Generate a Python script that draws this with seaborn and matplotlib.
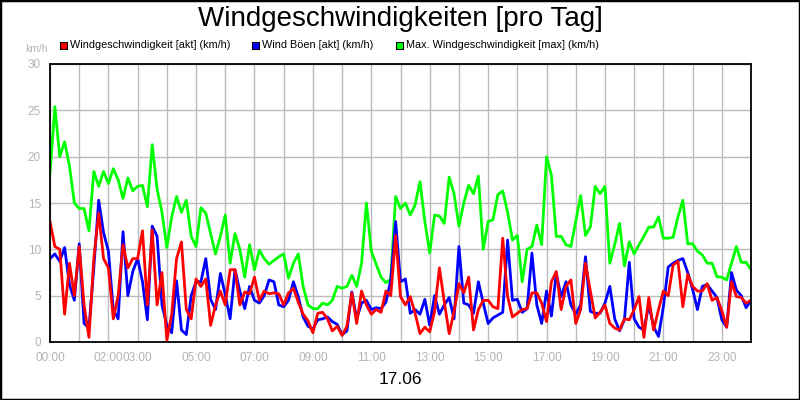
import numpy as np
import pandas as pd
import matplotlib
matplotlib.use("Agg")
import matplotlib.pyplot as plt
from matplotlib.patches import Rectangle
import seaborn as sns

# 10-minute readings from 00:00 to 24:00 (km/h)
minutes = np.arange(0, 24 * 60 + 1, 10)

wind_akt = [
    13.0, 10.3, 10.0, 3.0, 8.5, 5.0,
    10.3, 4.0, 0.5, 9.0, 13.9, 9.0,
    8.0, 2.5, 5.0, 10.5, 8.0, 9.0,
    9.0, 12.0, 4.0, 12.1, 4.0, 7.5,
    0.2, 3.0, 9.0, 10.8, 3.5, 2.5,
    6.8, 6.0, 6.8, 1.8, 4.0, 5.5,
    4.0, 7.8, 7.8, 4.0, 5.4, 5.2,
    7.0, 4.5, 5.5, 5.2, 5.3, 5.2,
    4.0, 5.3, 5.8, 4.3, 3.0, 2.3,
    1.0, 3.1, 3.2, 2.5, 1.2, 1.7,
    0.7, 1.7, 5.3, 2.0, 5.5, 4.0,
    3.0, 3.5, 3.2, 5.5, 5.0, 11.5,
    4.9, 4.0, 4.9, 3.1, 0.9, 1.6,
    1.1, 3.3, 8.0, 4.3, 0.9, 3.3,
    6.3, 5.3, 7.0, 1.3, 3.5, 4.5,
    4.5, 3.8, 3.6, 11.2, 4.9, 2.7,
    3.1, 3.5, 3.6, 5.3, 5.3, 4.2,
    2.2, 6.5, 7.6, 3.5, 6.0, 6.7,
    2.0, 3.5, 8.5, 5.5, 2.6, 3.2,
    4.0, 2.0, 1.5, 1.3, 2.5, 2.4,
    3.5, 4.9, 0.5, 4.8, 1.3, 3.5,
    5.5, 5.0, 8.3, 8.7, 3.8, 7.3,
    6.0, 5.5, 5.5, 6.3, 4.5, 4.8,
    3.4, 1.6, 6.5, 4.9, 4.8, 4.2,
    4.5,
]

boeen_akt = [
    9.0, 9.5, 8.7, 10.2, 6.2, 4.5,
    10.6, 2.0, 1.5, 8.0, 15.3, 11.8,
    9.8, 3.5, 2.5, 11.9, 5.0, 7.6,
    9.0, 6.5, 2.4, 12.5, 11.4, 4.0,
    1.8, 1.0, 6.6, 1.3, 0.8, 5.0,
    6.5, 6.5, 9.0, 4.6, 3.5, 7.4,
    5.1, 2.5, 7.8, 5.5, 3.6, 6.0,
    4.5, 4.2, 5.0, 6.7, 6.5, 4.0,
    3.8, 4.5, 6.5, 4.9, 2.7, 1.7,
    1.4, 2.4, 2.5, 2.7, 2.2, 1.9,
    0.8, 1.2, 5.4, 2.5, 4.2, 4.5,
    3.5, 3.7, 3.6, 4.3, 6.7, 13.0,
    6.5, 6.8, 3.1, 3.5, 3.0, 4.6,
    1.8, 5.0, 3.0, 4.0, 4.8, 2.5,
    10.3, 4.2, 4.0, 3.1, 6.5, 4.2,
    2.0, 2.6, 2.9, 3.2, 11.0, 4.5,
    4.6, 3.2, 3.6, 9.6, 4.0, 2.0,
    5.5, 2.8, 7.4, 4.9, 6.5, 4.0,
    3.0, 4.0, 9.2, 3.3, 3.1, 3.1,
    4.2, 6.0, 2.5, 1.2, 2.4, 8.6,
    2.5, 1.6, 1.3, 4.0, 1.65, 0.6,
    3.8, 8.1, 8.5, 8.8, 9.0, 7.5,
    5.7, 3.5, 6.0, 6.2, 5.5, 4.8,
    2.4, 1.6, 7.5, 5.6, 5.0, 3.7,
    4.5,
]

wind_max = [
    18.2, 25.4, 20.0, 21.6, 19.0, 15.0,
    14.4, 14.4, 12.0, 18.4, 16.8, 18.4,
    17.1, 18.7, 17.5, 15.5, 17.7, 16.3,
    16.8, 16.9, 14.6, 21.3, 16.5, 14.0,
    10.2, 13.5, 15.7, 14.0, 15.3, 11.4,
    10.3, 14.5, 13.9, 11.7, 9.5, 11.4,
    13.7, 8.5, 11.7, 10.0, 7.0, 10.5,
    7.8, 9.9, 9.0, 8.4, 8.8, 9.2,
    9.5, 6.9, 8.5, 9.5, 6.0, 4.0,
    3.6, 3.6, 4.2, 4.0, 4.5, 6.0,
    5.8, 6.0, 7.2, 6.0, 8.5, 15.0,
    9.8, 8.4, 7.0, 6.4, 6.8, 15.7,
    14.4, 15.0, 13.7, 14.8, 17.3, 13.0,
    9.6, 13.7, 13.6, 12.8, 17.8, 16.0,
    12.5, 15.0, 16.9, 16.0, 17.9, 10.0,
    13.0, 13.2, 15.9, 16.3, 14.0, 11.0,
    11.5, 6.5, 10.0, 10.3, 12.6, 10.5,
    20.0, 18.0, 11.4, 11.4, 10.5, 10.3,
    13.0, 15.8, 11.5, 12.4, 16.8, 16.0,
    16.8, 8.5, 10.5, 12.8, 8.2, 10.8,
    9.5, 10.5, 11.4, 12.4, 12.4, 13.5,
    11.2, 11.2, 11.3, 13.5, 15.3, 10.6,
    10.6, 9.8, 9.4, 8.5, 8.5, 7.05,
    7.0, 6.7, 8.5, 10.3, 8.6, 8.6,
    7.8,
]

series_names = [
    "Windgeschwindigkeit [akt] (km/h)",
    "Wind Böen [akt] (km/h)",
    "Max. Windgeschwindigkeit [max] (km/h)",
]
series_colors = ["#ff0000", "#0000ff", "#00ff00"]

y_ticks = [0, 5, 10, 15, 20, 25, 30]
x_hours = list(range(25))
x_labelled = {0: "00:00", 2: "02:00", 3: "03:00", 5: "05:00", 7: "07:00",
              9: "09:00", 11: "11:00", 13: "13:00", 15: "15:00",
              17: "17:00", 19: "19:00", 21: "21:00", 23: "23:00"}
date_label = "17.06"
title = "Windgeschwindigkeiten [pro Tag]"

# long table for seaborn
frames = []
for name, vals in zip(series_names, [wind_akt, boeen_akt, wind_max]):
    frames.append(pd.DataFrame({"hour": minutes / 60, "value": vals, "series": name}))
df = pd.concat(frames, ignore_index=True)

sns.set_style("white")
plt.rcParams["font.family"] = ["Liberation Sans", "DejaVu Sans"]
plt.rcParams["text.color"] = "black"

fig = plt.figure(figsize=(8, 4), dpi=100)
ax = fig.add_axes([50 / 800, 58 / 400, 701 / 800, 278 / 400])

palette = dict(zip(series_names, series_colors))
# green drawn first, red on top
sns.lineplot(data=df, x="hour", y="value", hue="series",
             hue_order=series_names[::-1], palette=palette,
             linewidth=2.0, legend=False, ax=ax)

ax.set_xlim(0, 24)
ax.set_ylim(0, 30)
ax.set_xticks(x_hours)
ax.set_xticklabels([x_labelled.get(h, "") for h in x_hours])
ax.set_yticks(y_ticks)
ax.set_yticklabels([str(v) for v in y_ticks])
ax.set_xlabel("")
ax.set_ylabel("")
ax.grid(True, color="#bbbbbb", linewidth=1.0)
ax.set_axisbelow(True)
for sp in ax.spines.values():
    sp.set_color("black")
    sp.set_linewidth(1.3)
ax.tick_params(axis="both", colors="#b4b4b4", labelcolor="#b4b4b4",
               labelsize=8.5, length=4.5, width=1.0, pad=2, direction="out")
ax.tick_params(axis="x", pad=3)

fig.text(0.5, 1 - 19 / 400, title, ha="center", va="center", fontsize=20, color="black")
fig.text(400 / 800, 1 - 380 / 400, date_label, ha="center", va="center",
         fontsize=12.5, color="black")
fig.text(37 / 800, 1 - 49 / 400, "km/h", ha="center", va="center",
         fontsize=7.5, color="#b4b4b4")

# legend row
leg_x = [60, 252, 396]
for x0, name, col in zip(leg_x, series_names, series_colors):
    fig.add_artist(Rectangle((x0 / 800, 1 - 49 / 400), 7 / 800, 7 / 400,
                             transform=fig.transFigure, facecolor=col,
                             edgecolor="black", linewidth=0.8))
    fig.text((x0 + 10) / 800, 1 - 45.5 / 400, name, ha="left", va="center",
             fontsize=7.8, color="black")

fig.add_artist(Rectangle((0, 0), 1, 1, transform=fig.transFigure,
                         fill=False, edgecolor="black", linewidth=2.5))

fig.savefig("out.png", dpi=100)
